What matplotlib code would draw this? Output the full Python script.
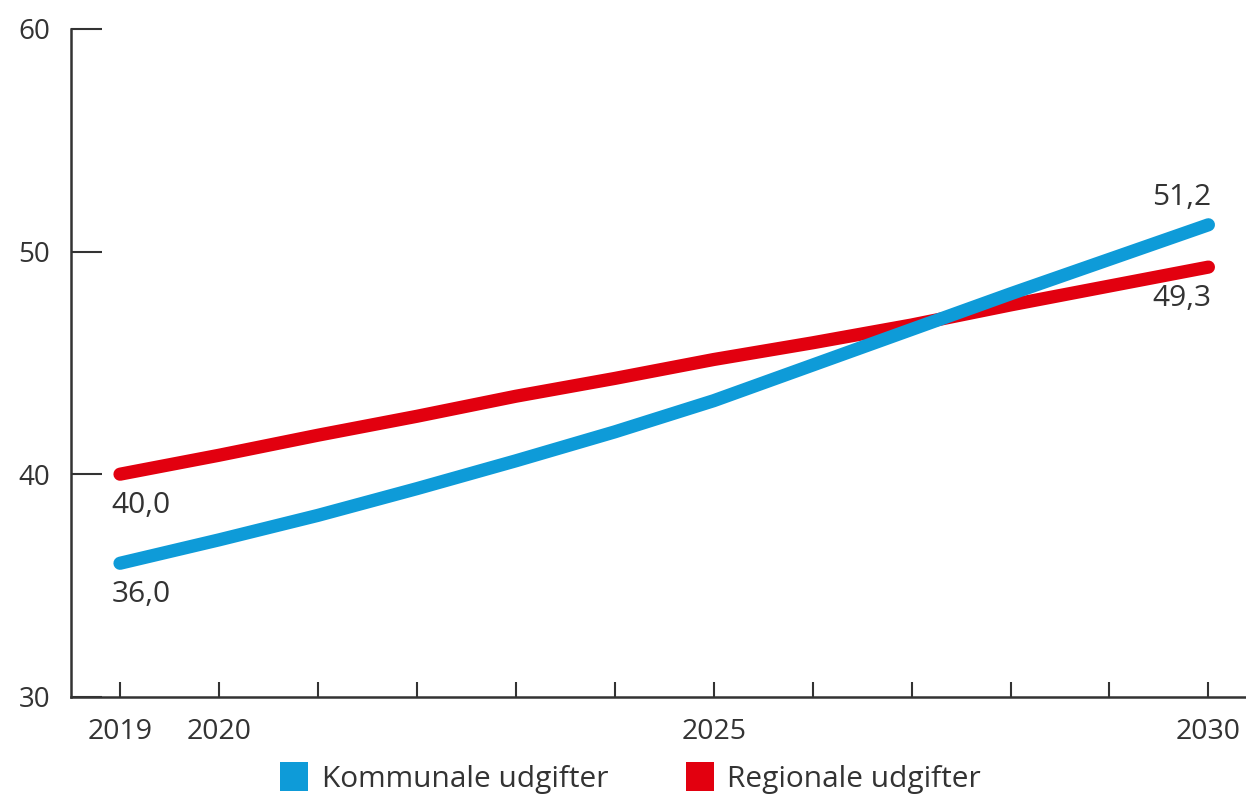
import matplotlib
matplotlib.use("Agg")
import matplotlib.pyplot as plt
from matplotlib.patches import Patch

years = [2019, 2020, 2021, 2022, 2023, 2024, 2025, 2026, 2027, 2028, 2029, 2030]
kommunale = [36.0, 37.05, 38.15, 39.35, 40.6, 41.9, 43.3, 44.9, 46.5, 48.1, 49.65, 51.2]
regionale = [40.0, 40.85, 41.75, 42.6, 43.5, 44.3, 45.15, 45.9, 46.7, 47.6, 48.45, 49.3]
xtick_labels = {2019: "2019", 2020: "2020", 2025: "2025", 2030: "2030"}
yticks = [30, 40, 50, 60]
label_k = "Kommunale udgifter"
label_r = "Regionale udgifter"

BLUE = "#0e9bd8"
RED = "#e2000f"
TXT = "#333333"

plt.rcParams["font.family"] = ["Open Sans", "DejaVu Sans"]

fig = plt.figure(figsize=(12.46, 8.01), dpi=100)
ax = fig.add_axes([0.057, 0.130, 0.943, 0.834])

ax.plot(years, regionale, color=RED, lw=9.5, solid_capstyle="round", solid_joinstyle="round", zorder=3)
ax.plot(years, kommunale, color=BLUE, lw=9.5, solid_capstyle="round", solid_joinstyle="round", zorder=3)

ax.set_xlim(2018.505, 2030.38)
ax.set_ylim(30, 60)

for s in ["top", "right"]:
    ax.spines[s].set_visible(False)
for s in ["left", "bottom"]:
    ax.spines[s].set_color(TXT)
    ax.spines[s].set_linewidth(1.8)

ax.set_xticks(years)
ax.set_xticklabels([xtick_labels.get(y, "") for y in years])
ax.set_yticks(yticks)
ax.set_yticklabels([str(v) for v in yticks])
ax.tick_params(axis="x", direction="in", length=11, width=1.5, color=TXT,
               labelsize=20.5, labelcolor=TXT, pad=15)
ax.tick_params(axis="y", direction="in", length=22, width=1.5, color=TXT,
               labelsize=20, labelcolor=TXT, pad=15)

fs = 21.5
ax.annotate(f"{regionale[0]:.1f}".replace(".", ","), (years[0], regionale[0]),
            xytext=(-6, -12), textcoords="offset points", ha="left", va="top",
            fontsize=fs, color=TXT)
ax.annotate(f"{kommunale[0]:.1f}".replace(".", ","), (years[0], kommunale[0]),
            xytext=(-6, -12), textcoords="offset points", ha="left", va="top",
            fontsize=fs, color=TXT)
ax.annotate(f"{kommunale[-1]:.1f}".replace(".", ","), (years[-1], kommunale[-1]),
            xytext=(2, 9), textcoords="offset points", ha="right", va="bottom",
            fontsize=fs, color=TXT)
ax.annotate(f"{regionale[-1]:.1f}".replace(".", ","), (years[-1], regionale[-1]),
            xytext=(2, -12), textcoords="offset points", ha="right", va="top",
            fontsize=fs, color=TXT)

handles = [Patch(facecolor=BLUE, edgecolor="none", label=label_k),
           Patch(facecolor=RED, edgecolor="none", label=label_r)]
fig.legend(handles=handles, loc="center", bbox_to_anchor=(0.506, 0.029), ncol=2,
           frameon=False, fontsize=21.5, handlelength=0.95, handleheight=1.1,
           handletextpad=0.45, columnspacing=2.6, labelcolor=TXT,
           borderpad=0.0)

fig.savefig("out.png", dpi=100, facecolor="white")
